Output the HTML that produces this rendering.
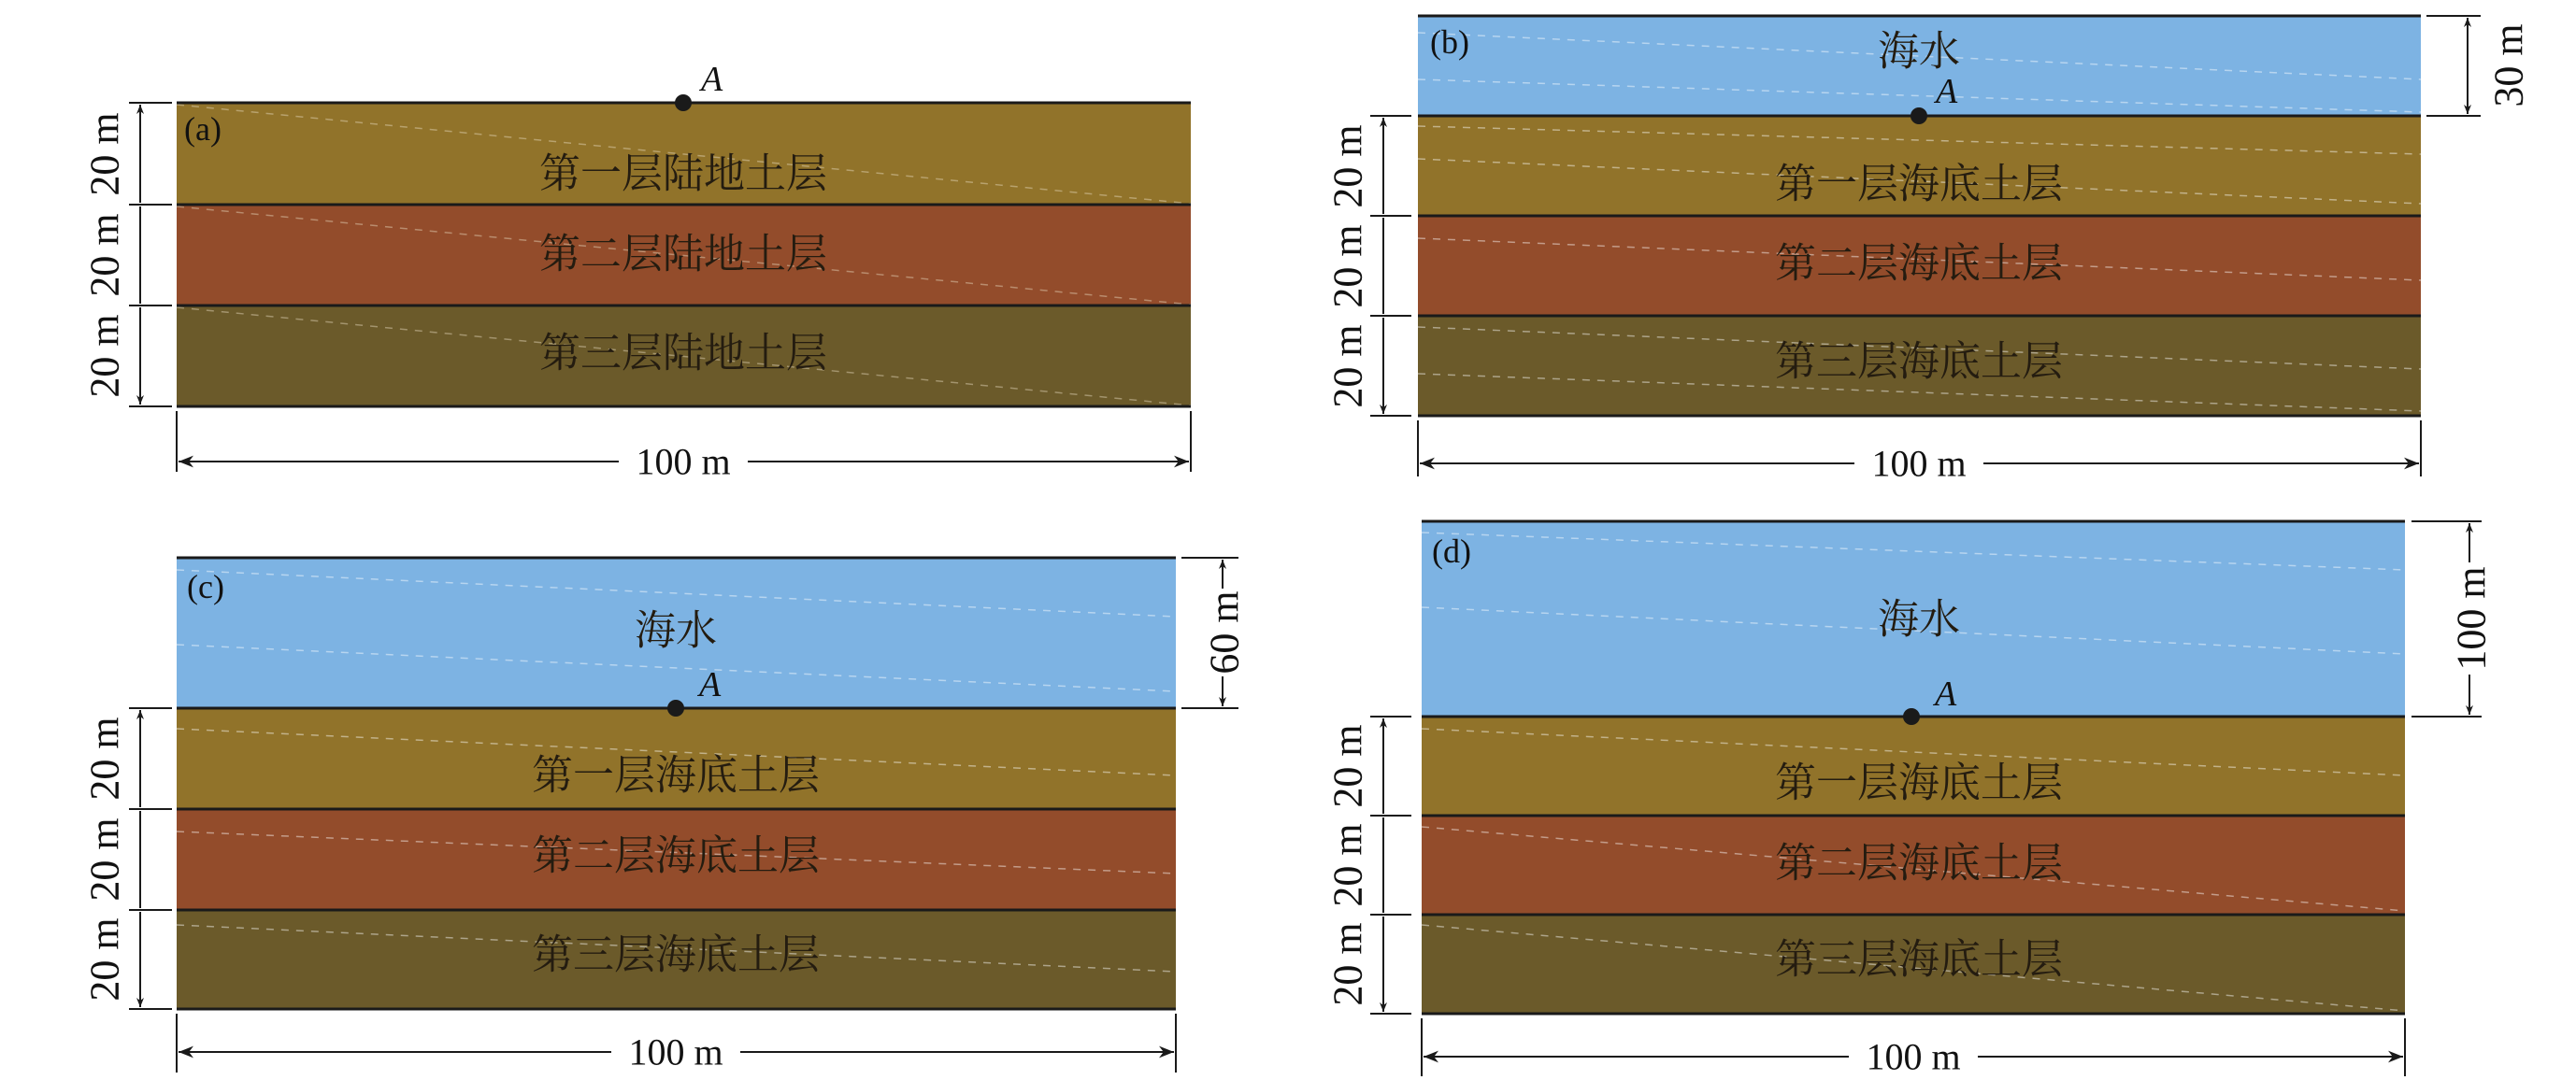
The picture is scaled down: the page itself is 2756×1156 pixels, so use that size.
<!DOCTYPE html>
<html><head><meta charset="utf-8"><style>
html,body{margin:0;padding:0;background:#fff}
svg{display:block}
text{font-family:"Liberation Serif","Noto Serif CJK SC",serif;fill:#111}
.l{font-size:44px;text-anchor:middle;dominant-baseline:central;fill:#241c10}
.d{font-size:40px;text-anchor:middle;dominant-baseline:central}
.v{font-size:44px;text-anchor:middle;dominant-baseline:central}
.p{font-size:36px}
.A{font-size:38px;font-style:italic}
.s1{fill:#91732a}.s2{fill:#934c2b}.s3{fill:#6b5a2a}.w{fill:#7db3e3}
.bd{stroke:#1a1a1a;stroke-width:3}
.dm{stroke:#1a1a1a;stroke-width:2;fill:none}
.ds{stroke:#e8dcc0;stroke-width:1.5;stroke-dasharray:8 8;opacity:.45;fill:none}
</style></head><body>
<svg width="2756" height="1156" viewBox="0 0 2756 1156" xmlns="http://www.w3.org/2000/svg">
<defs>
<marker id="ar" viewBox="0 0 10 10" refX="10" refY="5" markerWidth="10" markerHeight="10" orient="auto-start-reverse" markerUnits="userSpaceOnUse"><path d="M0,1 L10,5 L0,9 L3,5z" fill="#1a1a1a"/></marker>
<marker id="ar2" viewBox="0 0 10 10" refX="10" refY="5" markerWidth="16" markerHeight="16" orient="auto-start-reverse" markerUnits="userSpaceOnUse"><path d="M0,1 L10,5 L0,9 L3,5z" fill="#1a1a1a"/></marker>
</defs>

<!-- Panel a -->
<rect class="s1" x="189" y="110" width="1085" height="109"/>
<rect class="s2" x="189" y="219" width="1085" height="108"/>
<rect class="s3" x="189" y="327" width="1085" height="108"/>
<path class="ds" d="M189,112 L1274,218 M189,221 L1274,326 M189,329 L1274,434"/>
<path class="bd" d="M189,110H1274M189,219H1274M189,327H1274M189,435H1274"/>
<text class="p" x="197" y="150">(a)</text>
<text class="l" x="731" y="186">第一层陆地土层</text>
<text class="l" x="731" y="272">第二层陆地土层</text>
<text class="l" x="731" y="378">第三层陆地土层</text>
<circle cx="731" cy="110" r="9" fill="#1a1a1a"/>
<text class="A" x="750" y="97">A</text>
<path class="dm" d="M138,110H184M138,219H184M138,327H184M138,435H184"/>
<path class="dm" d="M150,112V217M150,221V325M150,329V433" marker-start="url(#ar)" marker-end="url(#ar)"/>
<text class="v" transform="translate(112,165) rotate(-90)">20 m</text>
<text class="v" transform="translate(112,273) rotate(-90)">20 m</text>
<text class="v" transform="translate(112,381) rotate(-90)">20 m</text>
<path class="dm" d="M189,440V505M1274,440V505"/>
<path class="dm" d="M191,494H662" marker-start="url(#ar2)" stroke-width="3"/>
<path class="dm" d="M800,494H1272" marker-end="url(#ar2)" stroke-width="3"/>
<text class="d" x="731" y="494">100 m</text>

<!-- Panel b -->
<rect class="w" x="1517" y="17" width="1073" height="107"/>
<rect class="s1" x="1517" y="124" width="1073" height="107"/>
<rect class="s2" x="1517" y="231" width="1073" height="107"/>
<rect class="s3" x="1517" y="338" width="1073" height="107"/>
<path class="ds" d="M1517,35 L2590,85 M1517,85 L2590,120 M1517,135 L2590,165 M1517,170 L2590,218 M1517,255 L2590,300 M1517,350 L2590,395 M1517,400 L2590,440" style="stroke:#fff"/>
<path class="bd" d="M1517,17H2590M1517,124H2590M1517,231H2590M1517,338H2590M1517,445H2590"/>
<text class="p" x="1530" y="57">(b)</text>
<text class="l" x="2053" y="55">海水</text>
<text class="l" x="2053" y="197">第一层海底土层</text>
<text class="l" x="2053" y="282">第二层海底土层</text>
<text class="l" x="2053" y="387">第三层海底土层</text>
<circle cx="2053" cy="124" r="9" fill="#1a1a1a"/>
<text class="A" x="2071" y="110">A</text>
<path class="dm" d="M1466,124H1510M1466,231H1510M1466,338H1510M1466,445H1510"/>
<path class="dm" d="M1480,126V229M1480,233V336M1480,340V443" marker-start="url(#ar)" marker-end="url(#ar)"/>
<text class="v" transform="translate(1442,178) rotate(-90)">20 m</text>
<text class="v" transform="translate(1442,285) rotate(-90)">20 m</text>
<text class="v" transform="translate(1442,392) rotate(-90)">20 m</text>
<path class="dm" d="M2596,17H2654M2596,124H2654"/>
<path class="dm" d="M2640,19V122" marker-start="url(#ar)" marker-end="url(#ar)"/>
<text class="v" transform="translate(2684,70) rotate(-90)">30 m</text>
<path class="dm" d="M1517,450V510M2590,450V510"/>
<path class="dm" d="M1519,496H1984" marker-start="url(#ar2)" stroke-width="3"/>
<path class="dm" d="M2122,496H2588" marker-end="url(#ar2)" stroke-width="3"/>
<text class="d" x="2053" y="496">100 m</text>

<!-- Panel c -->
<rect class="w" x="189" y="597" width="1069" height="161"/>
<rect class="s1" x="189" y="758" width="1069" height="108"/>
<rect class="s2" x="189" y="866" width="1069" height="108"/>
<rect class="s3" x="189" y="974" width="1069" height="106"/>
<path class="ds" d="M189,610 L1258,660 M189,690 L1258,740 M189,780 L1258,830 M189,890 L1258,935 M189,990 L1258,1040" style="stroke:#fff"/>
<path class="bd" d="M189,597H1258M189,758H1258M189,866H1258M189,974H1258M189,1080H1258"/>
<text class="p" x="200" y="640">(c)</text>
<text class="l" x="723" y="675">海水</text>
<text class="l" x="723" y="830">第一层海底土层</text>
<text class="l" x="723" y="916">第二层海底土层</text>
<text class="l" x="723" y="1022">第三层海底土层</text>
<circle cx="723" cy="758" r="9" fill="#1a1a1a"/>
<text class="A" x="748" y="745">A</text>
<path class="dm" d="M138,758H184M138,866H184M138,974H184M138,1080H184"/>
<path class="dm" d="M150,760V864M150,868V972M150,976V1078" marker-start="url(#ar)" marker-end="url(#ar)"/>
<text class="v" transform="translate(112,812) rotate(-90)">20 m</text>
<text class="v" transform="translate(112,920) rotate(-90)">20 m</text>
<text class="v" transform="translate(112,1027) rotate(-90)">20 m</text>
<path class="dm" d="M1264,597H1325M1264,758H1325"/>
<path class="dm" d="M1308,599V630" marker-start="url(#ar)"/>
<path class="dm" d="M1308,724V756" marker-end="url(#ar)"/>
<text class="v" transform="translate(1310,677) rotate(-90)">60 m</text>
<path class="dm" d="M189,1085V1148M1258,1085V1148"/>
<path class="dm" d="M191,1126H654" marker-start="url(#ar2)" stroke-width="3"/>
<path class="dm" d="M792,1126H1256" marker-end="url(#ar2)" stroke-width="3"/>
<text class="d" x="723" y="1126">100 m</text>

<!-- Panel d -->
<rect class="w" x="1521" y="558" width="1052" height="209"/>
<rect class="s1" x="1521" y="767" width="1052" height="106"/>
<rect class="s2" x="1521" y="873" width="1052" height="106"/>
<rect class="s3" x="1521" y="979" width="1052" height="106"/>
<path class="ds" d="M1521,570 L2573,610 M1521,650 L2573,700 M1521,780 L2573,830 M1521,885 L2573,975 M1521,990 L2573,1082" style="stroke:#fff"/>
<path class="bd" d="M1521,558H2573M1521,767H2573M1521,873H2573M1521,979H2573M1521,1085H2573"/>
<text class="p" x="1532" y="602">(d)</text>
<text class="l" x="2053" y="663">海水</text>
<text class="l" x="2053" y="838">第一层海底土层</text>
<text class="l" x="2053" y="924">第二层海底土层</text>
<text class="l" x="2053" y="1027">第三层海底土层</text>
<circle cx="2045" cy="767" r="9" fill="#1a1a1a"/>
<text class="A" x="2070" y="755">A</text>
<path class="dm" d="M1466,767H1510M1466,873H1510M1466,979H1510M1466,1085H1510"/>
<path class="dm" d="M1480,769V871M1480,875V977M1480,981V1083" marker-start="url(#ar)" marker-end="url(#ar)"/>
<text class="v" transform="translate(1442,820) rotate(-90)">20 m</text>
<text class="v" transform="translate(1442,926) rotate(-90)">20 m</text>
<text class="v" transform="translate(1442,1032) rotate(-90)">20 m</text>
<path class="dm" d="M2580,558H2655M2580,767H2655"/>
<path class="dm" d="M2642,560V602" marker-start="url(#ar)"/>
<path class="dm" d="M2642,722V765" marker-end="url(#ar)"/>
<text class="v" transform="translate(2644,662) rotate(-90)">100 m</text>
<path class="dm" d="M1521,1090V1152M2573,1090V1152"/>
<path class="dm" d="M1523,1131H1978" marker-start="url(#ar2)" stroke-width="3"/>
<path class="dm" d="M2116,1131H2571" marker-end="url(#ar2)" stroke-width="3"/>
<text class="d" x="2047" y="1131">100 m</text>
</svg>
</body></html>
